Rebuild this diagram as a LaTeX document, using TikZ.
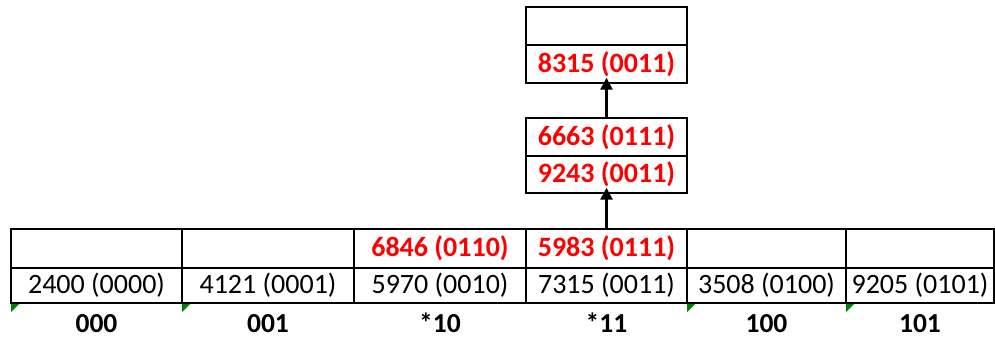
\documentclass[tikz,border=0pt]{standalone}
\usepackage{fontspec}
\setmainfont{Carlito}
\usetikzlibrary{arrows.meta}
\definecolor{xlgreen}{RGB}{0,128,0}
\tikzset{
  cell/.style={draw=black, line width=1.4pt, inner sep=0pt, anchor=center,
    font=\fontsize{28}{32}\selectfont},
  hi/.style={text=red, font=\fontsize{28}{32}\selectfont\bfseries},
  lab/.style={inner sep=0pt, anchor=base, text height=17pt, text depth=0pt,
    font=\fontsize{27.5}{32}\selectfont\bfseries},
  link/.style={line width=2.6pt, -{Triangle[length=12pt,width=12pt]}, shorten >=-6pt},
  greenmark/.style={fill=xlgreen, draw=none}
}
\begin{document}
\begin{tikzpicture}[x=1pt,y=-1pt]
\useasboundingbox (0,0) rectangle (995,338);
% table top row
\node[cell, minimum width=171pt, minimum height=39pt] (a1) at (96.5,248.5) {};
\node[cell, minimum width=172pt, minimum height=39pt] (a2) at (268,248.5) {};
\node[cell, hi, minimum width=172pt, minimum height=39pt] (a3) at (440,248.5) {6846 (0110)};
\node[cell, hi, minimum width=161pt, minimum height=39pt] (a4) at (606.5,248.5) {5983 (0111)};
\node[cell, minimum width=159pt, minimum height=39pt] (a5) at (766.5,248.5) {};
\node[cell, minimum width=148pt, minimum height=39pt] (a6) at (920,248.5) {};
% table bottom row
\node[cell, minimum width=171pt, minimum height=35pt] (b1) at (96.5,285.5) {2400 (0000)};
\node[cell, minimum width=172pt, minimum height=35pt] (b2) at (268,285.5) {4121 (0001)};
\node[cell, minimum width=172pt, minimum height=35pt] (b3) at (440,285.5) {5970 (0010)};
\node[cell, minimum width=161pt, minimum height=35pt] (b4) at (606.5,285.5) {7315 (0011)};
\node[cell, minimum width=159pt, minimum height=35pt] (b5) at (766.5,285.5) {3508 (0100)};
\node[cell, minimum width=148pt, minimum height=35pt] (b6) at (920,285.5) {9205 (0101)};
% labels
\node[lab] (l1) at (96.5,332) {000};
\node[lab] (l2) at (268,332) {001};
\node[lab] (l3) at (440,332) {*10};
\node[lab] (l4) at (606.5,332) {*11};
\node[lab] (l5) at (766.5,332) {100};
\node[lab] (l6) at (920,332) {101};
% green markers
\foreach \x in {11,182,687,846}
  \fill[greenmark] (\x,304) -- (\x+8,304) -- (\x,312) -- cycle;
% overflow chain
\node[cell, hi, minimum width=161pt, minimum height=37pt] (m2) at (606.5,174.5) {9243 (0011)};
\node[cell, hi, minimum width=161pt, minimum height=38pt] (m1) at (606.5,137) {6663 (0111)};
\node[cell, hi, minimum width=161pt, minimum height=38pt] (u2) at (606.5,64) {8315 (0011)};
\node[cell, minimum width=161pt, minimum height=38pt] (u1) at (606.5,26) {};
% arrows
\draw[link] (a4.north) -- (m2.south);
\draw[link] (m1.north) -- (u2.south);
\end{tikzpicture}
\end{document}
